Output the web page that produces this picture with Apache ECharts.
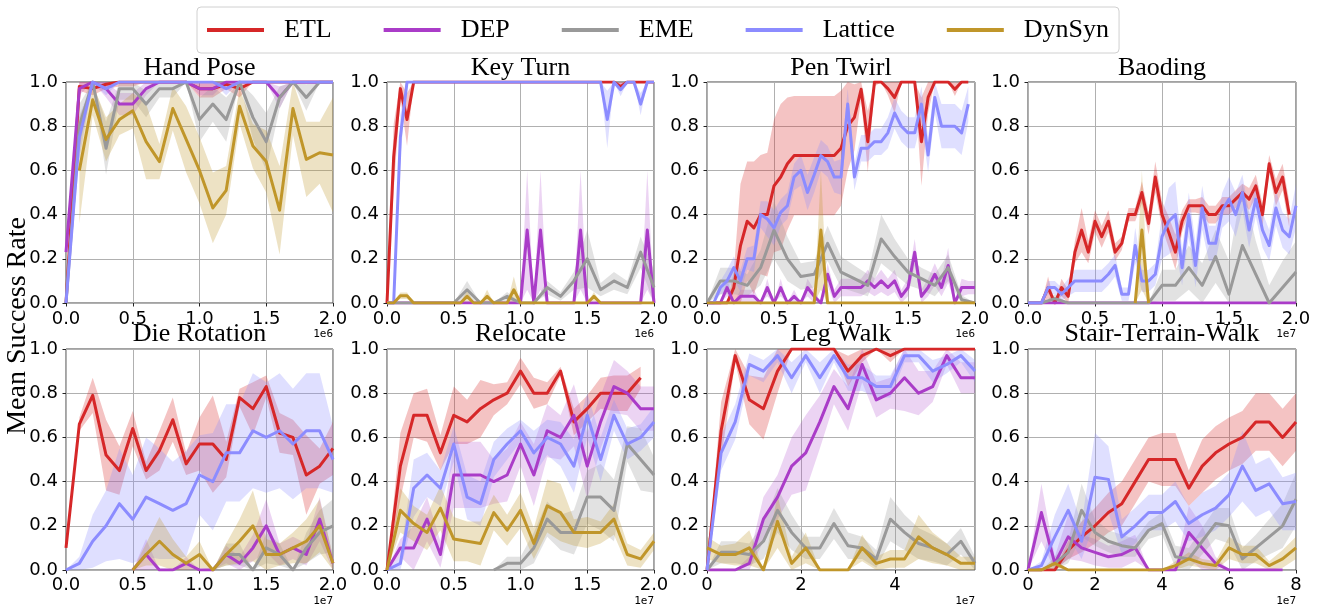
<!DOCTYPE html>
<html><head><meta charset="utf-8">
<script src="https://cdn.jsdelivr.net/npm/echarts/dist/echarts.min.js"></script>
<style>html,body{margin:0;padding:0;background:#fff}#c{width:1322px;height:605px}</style>
</head><body><div id="c"></div>
<script>
// ---------- x grids ----------
const x21 = [0,0.1,0.2,0.3,0.4,0.5,0.6,0.7,0.8,0.9,1.0,1.1,1.2,1.3,1.4,1.5,1.6,1.7,1.8,1.9,2.0];
const x41 = [0,0.05,0.1,0.15,0.2,0.25,0.3,0.35,0.4,0.45,0.5,0.55,0.6,0.65,0.7,0.75,0.8,0.85,0.9,0.95,1.0,1.05,1.1,1.15,1.2,1.25,1.3,1.35,1.4,1.45,1.5,1.55,1.6,1.65,1.7,1.75,1.8,1.85,1.9,1.95,2.0];
const xLeg = [0,0.3,0.6,0.9,1.2,1.5,1.8,2.1,2.4,2.7,3.0,3.3,3.6,3.9,4.2,4.5,4.8,5.1,5.4,5.7];
const xStair = [0,0.4,0.8,1.2,1.6,2.0,2.4,2.8,3.2,3.6,4.0,4.4,4.8,5.2,5.6,6.0,6.4,6.8,7.2,7.6,8.0];

const methodNames = ['ETL','DEP','EME','Lattice','DynSyn'];
const titles = ['Hand Pose','Key Turn','Pen Twirl','Baoding','Die Rotation','Relocate','Leg Walk','Stair-Terrain-Walk'];
const exponents = ['1e6','1e6','1e6','1e7','1e7','1e7','1e7','1e7'];
const yTicks = [0,0.2,0.4,0.6,0.8,1.0];

// ---------- Hand Pose ----------
const hpETL = [0,0.98,0.97,0.99,1,1,1,1,1,1,0.97,0.97,0.99,0.97,1,1,1,1,1,1,1];
const hpETLsd = [0,0.02,0.03,0.02,0.02,0.02,0,0,0,0,0.04,0.04,0.02,0.04,0,0,0,0,0,0,0];
const hpDEP = [0.23,0.97,1,0.97,0.9,0.9,0.97,1,1,1,0.97,0.97,1,1,1,1,0.93,1,1,1,1];
const hpDEPsd = [0,0.03,0,0.04,0.05,0.05,0.03,0,0,0,0.03,0.03,0,0,0,0,0.05,0,0,0,0];
const hpEME = [0,0.8,1,0.7,0.97,0.97,0.9,0.97,0.97,1,0.83,0.9,0.83,1,0.84,0.73,0.93,1,0.93,1,1];
const hpEMEsd = [0,0.1,0,0.12,0.05,0.05,0.06,0.04,0.04,0,0.1,0.08,0.1,0,0.1,0.13,0.05,0,0.06,0,0];
const hpLat = [0,0.75,1,0.97,1,1,1,1,1,1,1,1,0.97,1,1,1,1,1,1,1,1];
const hpLatsd = [0,0.1,0,0.03,0,0,0,0,0,0,0,0,0.03,0,0,0,0,0,0,0,0];
const hpDyn = [null,0.6,0.92,0.74,0.83,0.87,0.73,0.64,0.88,0.74,0.6,0.43,0.51,0.89,0.71,0.64,0.42,0.88,0.65,0.68,0.67];
const hpDynsd = [null,0.24,0.07,0.1,0.07,0.08,0.17,0.08,0.1,0.15,0.15,0.16,0.11,0.08,0.1,0.14,0.2,0.12,0.17,0.14,0.26];

// ---------- Key Turn ----------
const ktETL = [0,0.66,0.97,0.83,1,1,1,1,1,1, 1,1,1,1,1,1,1,1,1,1, 1,1,1,1,1,1,1,1,1,1, 1,1,1,1,1,0.98,1,1,1,1, 1];
const ktETLsd = [0,0.15,0.04,0.12,0,0,0,0,0,0, 0,0,0,0,0,0,0,0,0,0, 0,0,0,0,0,0,0,0,0,0, 0,0,0,0,0,0.02,0,0,0,0, 0];
const ktDEP = [0,0,0,0,0,0,0,0,0,0, 0,0,0,0,0,0,0,0,0,0, 0,0.33,0,0.33,0,0,0,0,0,0.33, 0,0,0,0,0,0,0,0,0,0.33, 0];
const ktDEPsd = [0,0,0,0,0,0,0,0,0,0, 0,0,0,0,0,0,0,0,0,0, 0,0.27,0,0.27,0,0,0,0,0,0.27, 0,0,0,0,0,0,0,0,0,0.27, 0];
const ktEME = [0,null,0,null,0,null,0,null,0,null, 0,null,0.06,null,0,null,0,null,0.03,null, 0,null,0,null,0.07,null,0.03,null,0.1,null, 0.2,null,0.06,null,0.1,null,0.07,null,0.23,null, 0.07];
const ktEMEsd = [0,null,0,null,0,null,0,null,0,null, 0,null,0.04,null,0,null,0,null,0.02,null, 0,null,0,null,0.03,null,0.02,null,0.04,null, 0.13,null,0.03,null,0.04,null,0.03,null,0.07,null, 0.08];
const ktLat = [0,0,0.75,1,1,1,1,1,1,1, 1,1,1,1,1,1,1,1,1,1, 1,1,1,1,1,1,1,1,1,1, 1,1,1,0.83,1,0.965,1,1,0.9,1, 1];
const ktLatsd = [0,0,0.1,0,0,0,0,0,0,0, 0,0,0,0,0,0,0,0,0,0, 0,0,0,0,0,0,0,0,0,0, 0,0,0,0.13,0,0.03,0,0,0.05,0, 0];
const ktDyn = [0,0,0.033,0.033,0,0,0,0,0,0, 0,0,0.03,0,0,0.03,0,0,0,0.06, 0,0,0,0,0,0,0,0,0,0, 0,0.03,0,0,0,0,0,0,0,0, 0];
const ktDynsd = [0,0,0.015,0.015,0,0,0,0,0,0, 0,0,0.03,0,0,0.03,0,0,0,0.06, 0,0,0,0,0,0,0,0,0,0, 0,0.02,0,0,0,0,0,0,0,0, 0];

// ---------- Pen Twirl ----------
const ptETL = [0,0,0,0,0.07,0.26,0.37,0.34,0.4,0.4, 0.53,0.57,0.63,0.667,0.667,0.667,0.667,0.667,0.667,0.667, 0.7,0.8,0.84,0.967,0.73,1,1,0.97,0.93,1, 1,1,0.73,0.93,1,1,1,0.967,1,1, null];
const ptETLsd = [0,0,0,0,0.07,0.28,0.27,0.3,0.27,0.28, 0.3,0.33,0.3,0.27,0.27,0.27,0.27,0.27,0.27,0.27, 0.26,0.2,0.15,0.04,0.14,0.02,0,0.03,0.07,0, 0,0,0.2,0.07,0,0,0,0.03,0,0, null];
const ptDEP = [0,0,0,0.07,0,0.03,0.03,0.03,0,0.07, 0,0.07,0,0.03,0,0.07,0.03,0,0.13,0.03, 0.07,0.07,0.07,0.07,0.1,0.07,0.1,0.07,0.1,0.03, 0.07,0.23,0.03,0.07,0.13,0.07,0.17,0,0.07,0.07, 0.07];
const ptDEPsd = [0,0,0,0.04,0,0.03,0.03,0.03,0,0.04, 0,0.04,0,0.03,0,0.04,0.03,0,0.05,0.03, 0.04,0.04,0.04,0.04,0.05,0.04,0.05,0.04,0.05,0.03, 0.04,0.06,0.03,0.04,0.05,0.04,0.08,0,0.04,0.03, 0.03];
const ptEME = [0,null,0.1,null,0.1,null,0.08,null,0.16,null, 0.33,null,0.2,null,0.12,null,0.13,null,0.27,null, 0.14,null,0.11,null,0.08,null,0.29,null,0.21,null, 0.14,null,0.11,null,0.08,null,0.16,null,0.015,null, 0];
const ptEMEsd = [0,null,0.06,null,0.06,null,0.05,null,0.08,null, 0.13,null,0.1,null,0.06,null,0.06,null,0.08,null, 0.07,null,0.06,null,0.05,null,0.11,null,0.08,null, 0.06,null,0.05,null,0.05,null,0.06,null,0.02,null, 0];
const ptLat = [0,0,0.07,0.1,0.16,0.1,0.2,0.2,0.4,0.38, 0.34,0.41,0.44,0.57,0.6,0.5,0.58,0.667,0.64,0.57, 0.57,0.9,0.57,0.7,0.7,0.73,0.73,0.77,0.86,0.8, 0.77,0.77,0.9,0.67,0.93,0.8,0.8,0.8,0.77,0.9, null];
const ptLatsd = [0,0,0.03,0.05,0.05,0.05,0.05,0.06,0.06,0.08, 0.08,0.06,0.06,0.06,0.07,0.08,0.08,0.07,0.07,0.07, 0.08,0.07,0.06,0.06,0.06,0.06,0.06,0.07,0.07,0.07, 0.07,0.07,0.08,0.08,0.07,0.1,0.1,0.1,0.1,0.08, null];
const ptDyn = [0,0,0,0,0,0,0,0,0,0, 0,0,0,0,0,0,0,0.33,0,0, 0,0,0,0,0,0,0,0,0,0, 0,0,0,0,0,0,0,0,0,0, 0];
const ptDynsd = [0,0,0,0,0,0,0,0,0,0, 0,0,0,0,0,0,0,0.27,0,0, 0,0,0,0,0,0,0,0,0,0, 0,0,0,0,0,0,0,0,0,0, 0];

// ---------- Baoding ----------
const bdETL = [0,0,0,0.07,0,0.07,0.03,0.23,0.33,0.23, 0.37,0.3,0.37,0.23,0.27,0.4,0.4,0.5,0.36,0.57, 0.4,0.32,0.23,0.37,0.44,0.44,0.44,0.4,0.4,0.44, 0.44,0.47,0.5,0.47,0.53,0.4,0.63,0.5,0.57,0.4, null];
const bdETLsd = [0,0,0,0.05,0,0.04,0.03,0.05,0.1,0.05, 0.05,0.05,0.05,0.04,0.03,0.03,0.03,0.05,0.05,0.07, 0.06,0.07,0.08,0.05,0.03,0.03,0.04,0.04,0.04,0.04, 0.04,0.04,0.04,0.05,0.05,0.05,0.04,0.06,0.06,0.06, null];
const bdDEP = [0,0,0,0,0,0,0,0,0,0, 0,0,0,0,0,0,0,0,0,0, 0,0,0,0,0,0,0,0,0,0, 0,0,0,0,0,0,0,0,0,0, 0];
const bdDEPsd = [0,0,0,0,0,0,0,0,0,0, 0,0,0,0,0,0,0,0,0,0, 0,0,0,0,0,0,0,0,0,0, 0,0,0,0,0,0,0,0,0,0, 0];
const bdEME = [0,null,0,null,0.02,null,0,null,0,null, 0,null,0,null,0,null,0,null,0,null, 0.08,null,0.08,null,0.16,null,0.08,null,0.21,null, 0.04,null,0.26,null,0.13,null,0,null,0.07,null, 0.14];
const bdEMEsd = [0,null,0,null,0.02,null,0,null,0,null, 0,null,0,null,0,null,0,null,0,null, 0.07,null,0.07,null,0.1,null,0.1,null,0.12,null, 0.15,null,0.28,null,0.15,null,0.08,null,0.12,null, 0.14];
const bdLat = [0,0,0,0.07,0.07,0.04,0.07,0.1,0.1,0.1, 0.1,0.1,0.13,0.17,0.04,0.04,0.26,0.1,0.1,0.13, 0.3,0.37,0.4,0.16,0.4,0.17,0.43,0.27,0.27,0.42, 0.47,0.4,0.5,0.33,0.47,0.33,0.26,0.43,0.33,0.3, 0.44];
const bdLatsd = [0,0,0,0.03,0.03,0.03,0.04,0.05,0.05,0.05, 0.05,0.05,0.05,0.05,0.03,0.03,0.08,0.05,0.05,0.05, 0.1,0.15,0.15,0.08,0.1,0.1,0.1,0.08,0.08,0.08, 0.1,0.1,0.08,0.08,0.08,0.08,0.07,0.08,0.08,0.08, 0.1];
const bdDyn = [null,null,null,null,null,null,null,null,null,null, null,null,null,null,null,null,0,0.33,0,null, null,null,null,null,null,null,null,null,null,null, null,null,null,null,null,null,null,null,null,null, null];
const bdDynsd = [null,null,null,null,null,null,null,null,null,null, null,null,null,null,null,null,0,0.27,0,null, null,null,null,null,null,null,null,null,null,null, null,null,null,null,null,null,null,null,null,null, null];

// ---------- Die Rotation ----------
const drETL = [0.1,0.66,0.79,0.52,0.45,0.64,0.45,0.54,0.68,0.48,0.57,0.57,0.5,0.78,0.73,0.83,0.62,0.6,0.43,0.47,0.55];
const drETLsd = [0,0.03,0.08,0.16,0.11,0.08,0.04,0.09,0.1,0.05,0.12,0.22,0.08,0.04,0.12,0.05,0.09,0.08,0.18,0.08,0.12];
const drDEP = [null,null,null,null,null,0,0.07,0,0,0.03,0,0,0.07,0.03,0.1,0.2,0.07,0.1,0.07,0.23,0.03];
const drDEPsd = [null,null,null,null,null,0,0.07,0,0,0.03,0,0,0.04,0.03,0.06,0.12,0.05,0.05,0.05,0.1,0.03];
const drEME = [null,null,null,null,null,null,null,null,null,null,null,0,0.07,0.07,0,0.1,0.07,0,0.1,0.17,0.2];
const drEMEsd = [null,null,null,null,null,null,null,null,null,null,null,0,0.05,0.05,0,0.07,0.05,0,0.07,0.1,0.12];
const drLat = [0,0.03,0.13,0.2,0.3,0.23,0.33,0.3,0.27,0.3,0.43,0.4,0.53,0.53,0.63,0.6,0.63,0.57,0.63,0.63,0.5];
const drLatsd = [0,0.03,0.12,0.16,0.25,0.2,0.27,0.25,0.22,0.24,0.18,0.22,0.22,0.22,0.26,0.25,0.26,0.25,0.26,0.26,0.15];
const drDyn = [null,null,null,null,null,0,0.07,0.13,0.07,0.03,0.07,0,0.07,0.13,0.2,0.07,0.07,0.1,0.13,0.2,0.03];
const drDynsd = [null,null,null,null,null,0,0.05,0.11,0.07,0.03,0.06,0,0.05,0.1,0.16,0.07,0.05,0.07,0.1,0.12,0.03];

// ---------- Relocate ----------
const rlETL = [0,0.47,0.7,0.7,0.53,0.7,0.67,0.73,0.77,0.8,0.9,0.8,0.8,0.9,0.67,0.73,0.8,0.8,0.8,0.87,null];
const rlETLsd = [0,0.15,0.1,0.12,0.08,0.13,0.1,0.13,0.07,0.05,0.06,0.07,0.05,0.02,0.06,0.06,0.07,0.08,0.08,0.05,null];
const rlDEP = [0,0.1,0.1,0.23,0.07,0.43,0.43,0.43,0.4,0.43,0.57,0.43,0.63,0.6,0.7,0.47,0.67,0.83,0.8,0.73,0.73];
const rlDEPsd = [0,0.04,0.1,0.1,0.06,0.15,0.15,0.15,0.1,0.12,0.1,0.14,0.12,0.1,0.14,0.15,0.12,0.12,0.1,0.1,0.1];
const rlEME = [null,null,null,null,null,null,null,null,0,0.03,0.03,0.1,0.23,0.17,0.17,0.33,0.33,0.27,0.57,0.5,0.43];
const rlEMEsd = [null,null,null,null,null,null,null,null,0,0.03,0.03,0.07,0.08,0.08,0.1,0.12,0.15,0.14,0.08,0.14,0.08];
const rlLat = [0,0.03,0.37,0.43,0.37,0.57,0.33,0.3,0.5,0.57,0.63,0.53,0.6,0.57,0.47,0.7,0.5,0.7,0.57,0.6,0.67];
const rlLatsd = [0,0.03,0.13,0.1,0.08,0.08,0.1,0.1,0.08,0.07,0.05,0.1,0.08,0.1,0.12,0.1,0.1,0.07,0.07,0.06,0.07];
const rlDyn = [0,0.27,0.21,0.17,0.28,0.14,0.13,0.12,0.26,0.18,0.27,0.12,0.29,0.26,0.17,0.17,0.17,0.23,0.07,0.05,0.13];
const rlDynsd = [0,0.1,0.08,0.08,0.1,0.1,0.09,0.1,0.08,0.07,0.08,0.07,0.12,0.13,0.06,0.07,0.05,0.07,0.05,0.04,0.04];

// ---------- Leg Walk ----------
const lwETL = [0,0.63,0.97,0.77,0.73,0.9,1,1,1,1,0.9,0.97,1,0.97,1,1,1,1,1,1];
const lwETLsd = [0,0.13,0.03,0.11,0.14,0.1,0,0,0,0,0.07,0.03,0,0.03,0,0,0,0,0,0];
const lwDEP = [0,0,0,0.03,0.23,0.33,0.47,0.53,0.67,0.83,0.73,0.93,0.77,0.8,0.87,0.8,0.83,0.97,0.87,0.87];
const lwDEPsd = [0,0,0,0.03,0.1,0.1,0.13,0.17,0.12,0.08,0.1,0.08,0.08,0.07,0.15,0.1,0.07,0.04,0.07,0.07];
const lwEME = [0,0.08,0.08,0.07,0.13,0.27,0.17,0.1,0.1,0.21,0.11,0.1,0.05,0.23,0.17,0.12,0.1,0.07,0.13,0.03];
const lwEMEsd = [0,0.05,0.05,0.05,0.08,0.1,0.08,0.05,0.05,0.07,0.06,0.05,0.04,0.1,0.08,0.07,0.06,0.05,0.06,0.03];
const lwLat = [0,0.53,0.67,0.93,0.9,0.97,0.87,0.97,0.87,0.97,0.87,0.87,0.83,0.83,0.97,0.97,0.9,0.93,0.97,0.9];
const lwLatsd = [0,0.08,0.08,0.05,0.05,0.03,0.07,0.03,0.07,0.03,0.06,0.06,0.05,0.05,0.03,0.03,0.05,0.04,0.03,0.05];
const lwDyn = [0.1,0.07,0.07,0.1,0,0.22,0.03,0.1,0,0,0,0.1,0.03,0.05,0.05,0.15,0.1,0.07,0.03,0.03];
const lwDynsd = [0.05,0.04,0.05,0.08,0,0.12,0.03,0.07,0,0,0,0.06,0.03,0.04,0.04,0.1,0.07,0.05,0.03,0.03];

// ---------- Stair-Terrain-Walk ----------
const stETL = [0,0,0,0.09,0.15,0.2,0.26,0.3,0.4,0.5,0.5,0.5,0.37,0.47,0.53,0.57,0.6,0.67,0.67,0.6,0.67];
const stETLsd = [0,0,0,0.04,0.07,0.08,0.09,0.1,0.1,0.1,0.12,0.12,0.08,0.12,0.12,0.12,0.12,0.13,0.13,0.13,0.13];
const stDEP = [0,0.26,0.03,0.15,0.1,0.08,0.06,0.07,0.1,0,0,0,0.17,0.1,0.03,0,0,0,0,0,null];
const stDEPsd = [0,0.13,0.03,0.1,0.06,0.06,0.05,0.06,0.06,0,0,0,0.12,0.1,0.03,0,0,0,0,0,null];
const stEME = [0,0,0.03,0.08,0.27,0.17,0.13,0.11,0.1,0.18,0.21,0.06,0.05,0.13,0.21,0.2,0.05,0.1,0.15,0.2,0.32];
const stEMEsd = [0,0,0.03,0.05,0.12,0.06,0.05,0.05,0.04,0.04,0.05,0.05,0.05,0.06,0.07,0.08,0.05,0.06,0.08,0.1,0.12];
const stLat = [0,0.02,0.15,0.27,0.13,0.42,0.41,0.15,0.2,0.26,0.26,0.31,0.21,0.25,0.28,0.34,0.47,0.36,0.39,0.3,0.31];
const stLatsd = [0,0.02,0.1,0.12,0.08,0.2,0.15,0.08,0.08,0.08,0.08,0.09,0.08,0.1,0.1,0.1,0.16,0.12,0.12,0.12,0.13];
const stDyn = [0,0,0.03,0,0,0,0,0,0,0,0,0.02,0.05,0.03,0.02,0.1,0.07,0.07,0.02,0.05,0.1];
const stDynsd = [0,0,0.02,0,0,0,0,0,0,0,0,0.02,0.03,0.02,0.02,0.05,0.04,0.04,0.02,0.04,0.05];

// ---------- assemble ----------
const taskX = [x21, x41, x41, x41, x21, x21, xLeg, xStair];
const taskXMax = [2, 2, 2, 2, 2, 2, 5.7, 8];
const taskXInterval = [0.5, 0.5, 0.5, 0.5, 0.5, 0.5, 2, 2];
const taskMeans = [
  [hpETL, hpDEP, hpEME, hpLat, hpDyn],
  [ktETL, ktDEP, ktEME, ktLat, ktDyn],
  [ptETL, ptDEP, ptEME, ptLat, ptDyn],
  [bdETL, bdDEP, bdEME, bdLat, bdDyn],
  [drETL, drDEP, drEME, drLat, drDyn],
  [rlETL, rlDEP, rlEME, rlLat, rlDyn],
  [lwETL, lwDEP, lwEME, lwLat, lwDyn],
  [stETL, stDEP, stEME, stLat, stDyn]
];
const taskSds = [
  [hpETLsd, hpDEPsd, hpEMEsd, hpLatsd, hpDynsd],
  [ktETLsd, ktDEPsd, ktEMEsd, ktLatsd, ktDynsd],
  [ptETLsd, ptDEPsd, ptEMEsd, ptLatsd, ptDynsd],
  [bdETLsd, bdDEPsd, bdEMEsd, bdLatsd, bdDynsd],
  [drETLsd, drDEPsd, drEMEsd, drLatsd, drDynsd],
  [rlETLsd, rlDEPsd, rlEMEsd, rlLatsd, rlDynsd],
  [lwETLsd, lwDEPsd, lwEMEsd, lwLatsd, lwDynsd],
  [stETLsd, stDEPsd, stEMEsd, stLatsd, stDynsd]
];

const lineColors = ['#d62728', '#aa3cc8', '#999999', '#8c8cff', '#c0962a'];
const bandColors = ['rgba(214,39,40,0.28)', 'rgba(170,60,200,0.22)', 'rgba(150,150,150,0.28)', 'rgba(140,140,255,0.28)', 'rgba(192,150,42,0.28)'];

const colLeft = [66, 387, 707, 1028];
const colWidth = [267, 267, 268, 268];
const rowTop = [82, 349];
const rowHeight = 221;

const SERIF = 'Liberation Serif';
const SANS = 'DejaVu Sans';

function makeBand(xs, mean, sd, fill) {
  return function (params, api) {
    const up = [], lo = [];
    for (let i = 0; i < xs.length; i++) {
      if (mean[i] == null) continue;
      const s = sd[i] || 0;
      up.push(api.coord([xs[i], Math.min(1, mean[i] + s)]));
      lo.push(api.coord([xs[i], Math.max(0, mean[i] - s)]));
    }
    return { type: 'polygon', silent: true, shape: { points: up.concat(lo.reverse()) }, style: { fill: fill } };
  };
}

const grids = [], xAxes = [], yAxes = [], series = [], graphics = [];
for (let t = 0; t < 8; t++) {
  const c = t % 4, r = Math.floor(t / 4);
  grids.push({ left: colLeft[c], top: rowTop[r], width: colWidth[c], height: rowHeight,
    show: true, borderColor: '#444', borderWidth: 1, backgroundColor: 'transparent',
    containLabel: false, outerBoundsMode: 'none' });
  const isInt = taskXInterval[t] === 2;
  xAxes.push({ gridIndex: t, type: 'value', min: 0, max: taskXMax[t], interval: taskXInterval[t],
    axisLine: { show: false },
    axisTick: { show: true, length: 3.5, lineStyle: { color: '#222', width: 1 } },
    axisLabel: { show: true, fontFamily: SANS, fontSize: 18, color: '#000', margin: r === 0 ? 7 : 6,
      showMinLabel: true, showMaxLabel: !isInt || taskXMax[t] % 2 === 0,
      formatter: isInt ? function (v) { return Math.abs(v % 2) < 1e-9 ? String(Math.round(v)) : ''; }
                       : function (v) { return v.toFixed(1); } },
    splitLine: { show: true, lineStyle: { color: '#b0b0b0', width: 1 } } });
  yAxes.push({ gridIndex: t, type: 'value', min: yTicks[0], max: yTicks[yTicks.length - 1], interval: 0.2,
    axisLine: { show: false },
    axisTick: { show: true, length: 3.5, lineStyle: { color: '#222', width: 1 } },
    axisLabel: { fontFamily: SANS, fontSize: 18, color: '#000', margin: 8, showMinLabel: true, showMaxLabel: true,
      formatter: function (v) { return v.toFixed(1); } },
    splitLine: { show: true, lineStyle: { color: '#b0b0b0', width: 1 } } });

  // bands
  for (let m = 0; m < 5; m++) {
    series.push({ type: 'custom', name: methodNames[m] + ' band', xAxisIndex: t, yAxisIndex: t,
      z: 1, silent: true, clip: true, data: [[taskX[t][0], 0]],
      renderItem: makeBand(taskX[t], taskMeans[t][m], taskSds[t][m], bandColors[m]) });
  }
  // titles and offsets
  const cx = colLeft[c] + colWidth[c] / 2;
  graphics.push({ type: 'text', x: cx, y: r === 0 ? 68 : 334, silent: true,
    style: { text: titles[t], fill: '#000', font: '26px "' + SERIF + '"', textAlign: 'center', textVerticalAlign: 'middle', align: 'center', verticalAlign: 'middle' } });
  graphics.push({ type: 'text', x: colLeft[c] + colWidth[c], y: rowTop[r] + rowHeight + 31, silent: true,
    style: { text: exponents[t], fill: '#000', font: '11px "DejaVu Sans Mono"', textAlign: 'right', textVerticalAlign: 'middle', align: 'right', verticalAlign: 'middle' } });
}
// lines on top of all bands
for (let t = 0; t < 8; t++) {
  for (let m = 0; m < 5; m++) {
    const d = [];
    taskX[t].forEach(function (x, i) { const v = taskMeans[t][m][i]; if (v != null) d.push([x, v]); });
    series.push({ type: 'line', name: methodNames[m], xAxisIndex: t, yAxisIndex: t, z: 2, data: d,
      showSymbol: false, symbol: 'none', silent: true, clip: true,
      lineStyle: { color: lineColors[m], width: 3, join: 'round' }, itemStyle: { color: lineColors[m] } });
  }
}
graphics.push({ type: 'text', x: 18, y: 326, rotation: Math.PI / 2, silent: true,
  style: { text: 'Mean Success Rate', fill: '#000', font: '28px "' + SERIF + '"', textAlign: 'center', textVerticalAlign: 'middle', align: 'center', verticalAlign: 'middle' } });

const chart = echarts.init(document.getElementById('c'), null, { renderer: 'canvas', width: 1322, height: 605 });
chart.setOption({
  animation: false,
  backgroundColor: '#fff',
  legend: {
    data: methodNames, left: 197, top: 7, orient: 'horizontal',
    padding: [10, 10, 10, 10], itemGap: 52, itemWidth: 57, itemHeight: 4, icon: 'rect',
    borderColor: '#d0d0d0', borderWidth: 1, borderRadius: 4, selectedMode: false,
    textStyle: { fontFamily: SERIF, fontSize: 26, color: '#000', lineHeight: 26, padding: [0, 0, 0, 15] }
  },
  grid: grids, xAxis: xAxes, yAxis: yAxes, series: series, graphic: graphics
});
</script></body></html>
